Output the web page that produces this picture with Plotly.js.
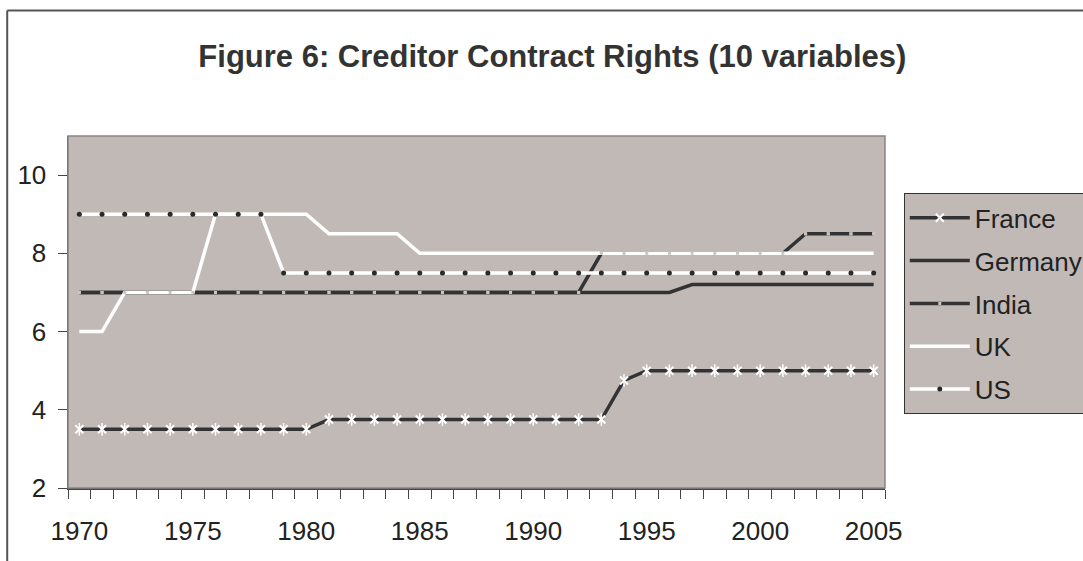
<!DOCTYPE html>
<html>
<head>
<meta charset="utf-8">
<script src="https://cdn.plot.ly/plotly-3.0.1.min.js"></script>
<style>
html,body{margin:0;padding:0;background:#fff;overflow:hidden;}
#chart{width:1083px;height:561px;}
</style>
</head>
<body>
<div id="chart"></div>
<script>
const years = [1970,1971,1972,1973,1974,1975,1976,1977,1978,1979,1980,1981,1982,1983,1984,1985,1986,1987,1988,1989,1990,1991,1992,1993,1994,1995,1996,1997,1998,1999,2000,2001,2002,2003,2004,2005];
const france  = [3.5,3.5,3.5,3.5,3.5,3.5,3.5,3.5,3.5,3.5,3.5,3.75,3.75,3.75,3.75,3.75,3.75,3.75,3.75,3.75,3.75,3.75,3.75,3.75,4.75,5,5,5,5,5,5,5,5,5,5,5];
const germany = [7,7,7,7,7,7,7,7,7,7,7,7,7,7,7,7,7,7,7,7,7,7,7,7,7,7,7,7.2,7.2,7.2,7.2,7.2,7.2,7.2,7.2,7.2];
const india   = [7,7,7,7,7,7,7,7,7,7,7,7,7,7,7,7,7,7,7,7,7,7,7,8,8,8,8,8,8,8,8,8,8.5,8.5,8.5,8.5];
const uk      = [6,6,7,7,7,7,9,9,9,9,9,8.5,8.5,8.5,8.5,8,8,8,8,8,8,8,8,8,8,8,8,8,8,8,8,8,8,8,8,8];
const us      = [9,9,9,9,9,9,9,9,9,7.5,7.5,7.5,7.5,7.5,7.5,7.5,7.5,7.5,7.5,7.5,7.5,7.5,7.5,7.5,7.5,7.5,7.5,7.5,7.5,7.5,7.5,7.5,7.5,7.5,7.5,7.5];
const seriesNames = ['France','Germany','India','UK','US'];
const xTicks = [1970,1975,1980,1985,1990,1995,2000,2005];
const yTicks = [2,4,6,8,10];
const titleText = 'Figure 6: Creditor Contract Rights (10 variables)';

const DARK = '#333336';
const WHITE = '#ffffff';
const BG = '#c1b9b6';
const FONT = 'Liberation Sans, Arial, Helvetica, sans-serif';

const traces = [
  {x: years, y: france, name: seriesNames[0], legendgroup: 'g1', mode: 'lines+markers',
   line: {color: DARK, width: 3.5},
   marker: {symbol: 'x-thin-open', size: 8, color: WHITE, line: {color: WHITE, width: 2}}},
  {x: years, y: france, name: seriesNames[0], legendgroup: 'g1', showlegend: false, mode: 'markers',
   marker: {symbol: 'line-ns-open', size: 9, color: WHITE, line: {color: WHITE, width: 1.5}}, hoverinfo: 'skip'},
  {x: years, y: germany, name: seriesNames[1], legendgroup: 'g2', mode: 'lines',
   line: {color: DARK, width: 3.5}},
  {x: years, y: india, name: seriesNames[2], legendgroup: 'g3', mode: 'lines+markers',
   line: {color: DARK, width: 3.5},
   marker: {symbol: 'square', size: 3, color: '#cbc4c1', line: {width: 0}}},
  {x: years, y: uk, name: seriesNames[3], legendgroup: 'g4', mode: 'lines',
   line: {color: WHITE, width: 3.5}},
  {x: years, y: us, name: seriesNames[4], legendgroup: 'g5', mode: 'lines+markers',
   line: {color: WHITE, width: 3.5},
   marker: {symbol: 'circle', size: 5, color: '#2a2a2a', line: {width: 0}}},
  {x: years, y: india, name: seriesNames[2], legendgroup: 'g3', showlegend: false, mode: 'markers',
   marker: {symbol: 'square', size: 3, color: '#cbc4c1', line: {width: 0}}, hoverinfo: 'skip'}
];

const layout = {
  width: 1083, height: 561,
  margin: {l: 68, r: 198, t: 136, b: 73, pad: 0, autoexpand: false},
  paper_bgcolor: '#ffffff',
  plot_bgcolor: BG,
  font: {family: FONT, size: 26, color: '#222'},
  title: {text: '<b>' + titleText + '</b>', font: {family: FONT, size: 31, color: '#333'},
          x: 0.51, xanchor: 'center', y: 1 - 56/561, yanchor: 'middle', xref: 'container', yref: 'container'},
  showlegend: true,
  legend: {x: 1.023, xanchor: 'left', y: 0.837, yanchor: 'top',
           bgcolor: BG, bordercolor: '#333', borderwidth: 1,
           font: {family: FONT, size: 26, color: '#222'},
           tracegroupgap: 6, itemwidth: 60, traceorder: 'grouped'},
  xaxis: {range: [1969.5, 2005.5], tickmode: 'array', tickvals: xTicks, ticktext: xTicks.map(String),
          ticks: '', showgrid: false, zeroline: false, showline: true, linecolor: '#444', linewidth: 1.5,
          ticklabelstandoff: 19, tickfont: {family: FONT, size: 26, color: '#222'},
          minor: {tickmode: 'linear', tick0: 1969.5, dtick: 1, ticks: 'outside', ticklen: 9, tickcolor: '#444', tickwidth: 1, showgrid: false}},
  yaxis: {range: [2, 11], tickmode: 'array', tickvals: yTicks, ticktext: yTicks.map(String),
          ticks: 'outside', ticklen: 9, tickcolor: '#444', tickwidth: 1,
          showgrid: false, zeroline: false, showline: true, linecolor: '#444', linewidth: 1.5,
          ticklabelstandoff: 6, tickfont: {family: FONT, size: 26, color: '#222'}},
  shapes: [
    {type: 'rect', xref: 'paper', yref: 'paper', x0: 0, x1: 1, y0: 0, y1: 1, line: {color: '#8c8482', width: 1.5}, layer: 'above'},
    {type: 'line', xref: 'paper', yref: 'paper', x0: -0.0744, x1: 2, y0: 1.3568, y1: 1.3568, line: {color: '#555', width: 2}},
    {type: 'line', xref: 'paper', yref: 'paper', x0: -0.0744, x1: -0.0744, y0: 1.3568, y1: -1, line: {color: '#555', width: 2}}
  ]
};

Plotly.newPlot('chart', traces, layout, {displayModeBar: false, staticPlot: true});
</script>
</body>
</html>
